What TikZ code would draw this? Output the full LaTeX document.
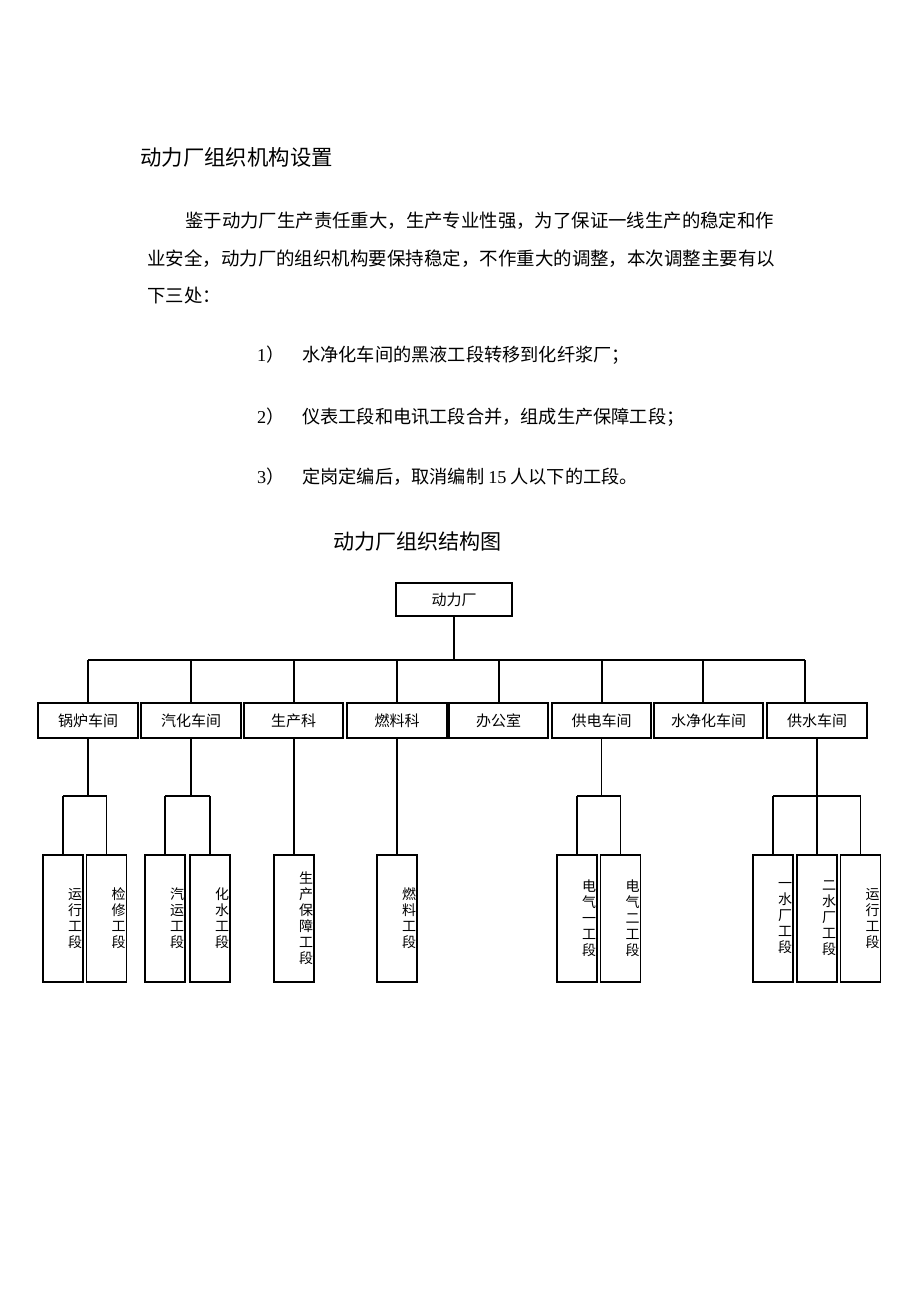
\documentclass[tikz,border=0pt]{standalone}
\usepackage{fontspec}
\setmainfont{Liberation Serif}
\newfontfamily\cjk{Noto Sans CJK SC}
\begin{document}
\begin{tikzpicture}[x=1pt,y=-1pt,
  txt/.style={inner sep=0pt, anchor=west},
  root/.style={draw, line width=1.1pt, minimum width=116pt, minimum height=33pt, inner sep=0pt, font=\cjk\fontsize{15}{15}\selectfont},
  lvone/.style={draw, line width=1.1pt, minimum height=35pt, inner sep=0pt, font=\cjk\fontsize{15}{15}\selectfont},
  lvtwo/.style={draw, line width=1.1pt, minimum width=40pt, minimum height=127pt, inner sep=0pt},
  vlab/.style={inner sep=0pt, align=center, font=\cjk\fontsize{14}{16}\selectfont},
  conn/.style={line width=1.1pt},
  thickconn/.style={line width=1.9pt}
]
\path[fill=white, use as bounding box] (0,0) rectangle (920,1302);

% heading and text
\node[txt, font=\cjk\fontsize{21.4}{22}\selectfont] (h1) at (140,157) {动力厂组织机构设置};
\node[txt, font=\cjk\fontsize{18.4}{19}\selectfont] (p1) at (185,221) {鉴于动力厂生产责任重大，生产专业性强，为了保证一线生产的稳定和作};
\node[txt, font=\cjk\fontsize{18.47}{19}\selectfont] (p2) at (147,259) {业安全，动力厂的组织机构要保持稳定，不作重大的调整，本次调整主要有以};
\node[txt, font=\cjk\fontsize{18.4}{19}\selectfont] (p3) at (147,296) {下三处：};

\node[txt, font=\fontsize{18.2}{18}\selectfont] (n1) at (257,355) {1{\cjk ）}};
\node[txt, font=\cjk\fontsize{18.2}{18}\selectfont] (i1) at (302,355) {水净化车间的黑液工段转移到化纤浆厂；};
\node[txt, font=\fontsize{18.2}{18}\selectfont] (n2) at (257,417) {2{\cjk ）}};
\node[txt, font=\cjk\fontsize{18.2}{18}\selectfont] (i2) at (302,417) {仪表工段和电讯工段合并，组成生产保障工段；};
\node[txt, font=\fontsize{18.2}{18}\selectfont] (n3) at (257,477) {3{\cjk ）}};
\node[txt, font=\cjk\fontsize{18.2}{18}\selectfont] (i3) at (302,477) {定岗定编后，取消编制 {\rmfamily 15} 人以下的工段。};

\node[txt, font=\cjk\fontsize{21.1}{22}\selectfont] (ct) at (333,542) {动力厂组织结构图};

% chart
\node[root] (R) at (454,599.5) {动力厂};

\node[lvone, minimum width=100pt] (A) at (88,720.5) {锅炉车间};
\node[lvone, minimum width=100pt] (B) at (191,720.5) {汽化车间};
\node[lvone, minimum width=99pt] (C) at (293.5,720.5) {生产科};
\node[lvone, minimum width=100pt] (D) at (397,720.5) {燃料科};
\node[lvone, minimum width=99pt] (E) at (498.5,720.5) {办公室};
\node[lvone, minimum width=99pt] (F) at (601.5,720.5) {供电车间};
\node[lvone, minimum width=109pt] (G) at (708.5,720.5) {水净化车间};
\node[lvone, minimum width=100pt] (H) at (817,720.5) {供水车间};

\coordinate (bus) at (0,660);
\coordinate (dA) at (88,660);
\coordinate (dB) at (191,660);
\coordinate (dC) at (294,660);
\coordinate (dD) at (397,660);
\coordinate (dE) at (499,660);
\coordinate (dF) at (602,660);
\coordinate (dG) at (703,660);
\coordinate (dH) at (805,660);

\draw[thickconn] (R.south) -- (R.south |- bus);
\draw[thickconn] (dA) -- (dF);
\draw[conn] (dF) -- (dH);
\foreach \d/\b in {dA/A,dB/B,dC/C,dD/D,dE/E,dF/F,dG/G,dH/H}{
  \draw[conn] (\d) -- (\d |- \b.north);
}

% level two boxes
\node[lvtwo] (A1) at (63,918.5) {};
\node[lvtwo] (A2) at (106.5,918.5) {};
\node[lvtwo] (B1) at (165,918.5) {};
\node[lvtwo] (B2) at (210,918.5) {};
\node[lvtwo] (C1) at (294,918.5) {};
\node[lvtwo] (D1) at (397,918.5) {};
\node[lvtwo] (F1) at (577,918.5) {};
\node[lvtwo] (F2) at (620.5,918.5) {};
\node[lvtwo] (H1) at (773,918.5) {};
\node[lvtwo] (H2) at (817,918.5) {};
\node[lvtwo] (H3) at (860.5,918.5) {};

\node[vlab] (tA1) at ([xshift=12pt]A1.center) {运\\行\\工\\段};
\node[vlab] (tA2) at ([xshift=12pt]A2.center) {检\\修\\工\\段};
\node[vlab] (tB1) at ([xshift=12pt]B1.center) {汽\\运\\工\\段};
\node[vlab] (tB2) at ([xshift=12pt]B2.center) {化\\水\\工\\段};
\node[vlab] (tC1) at ([xshift=12pt]C1.center) {生\\产\\保\\障\\工\\段};
\node[vlab] (tD1) at ([xshift=12pt]D1.center) {燃\\料\\工\\段};
\node[vlab] (tF1) at ([xshift=12pt]F1.center) {电\\气\\一\\工\\段};
\node[vlab] (tF2) at ([xshift=12pt]F2.center) {电\\气\\二\\工\\段};
\node[vlab] (tH1) at ([xshift=12pt]H1.center) {一\\水\\厂\\工\\段};
\node[vlab] (tH2) at ([xshift=12pt]H2.center) {二\\水\\厂\\工\\段};
\node[vlab] (tH3) at ([xshift=12pt]H3.center) {运\\行\\工\\段};

\coordinate (br) at (0,796);
% branches
\draw[conn] (A.south) -- (A.south |- br);
\draw[conn] (A1.north |- br) -- (A2.north |- br);
\draw[conn] (A1.north |- br) -- (A1.north);
\draw[conn] (A2.north |- br) -- (A2.north);

\draw[conn] (B.south) -- (B.south |- br);
\draw[conn] (B1.north |- br) -- (B2.north |- br);
\draw[conn] (B1.north |- br) -- (B1.north);
\draw[conn] (B2.north |- br) -- (B2.north);

\draw[conn] (C1.north |- C.south) -- (C1.north);
\draw[conn] (D.south) -- (D1.north);

\draw[conn] (F.south) -- (F.south |- br);
\draw[conn] (F1.north |- br) -- (F2.north |- br);
\draw[conn] (F1.north |- br) -- (F1.north);
\draw[conn] (F2.north |- br) -- (F2.north);

\draw[conn] (H.south) -- (H2.north);
\draw[conn] (H1.north |- br) -- (H3.north |- br);
\draw[conn] (H1.north |- br) -- (H1.north);
\draw[conn] (H3.north |- br) -- (H3.north);
\end{tikzpicture}
\end{document}
